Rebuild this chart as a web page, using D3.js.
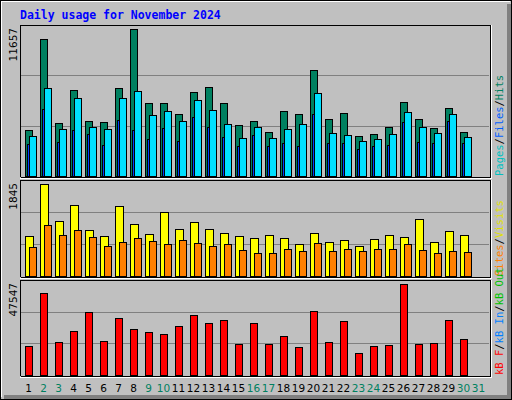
<!DOCTYPE html>
<html><head><meta charset="utf-8">
<script src="https://cdn.jsdelivr.net/npm/d3@7"></script>
<style>body{margin:0;background:#fff}</style>
</head><body>
<script>
const days = d3.range(1, 32)
const weekend = [2, 3, 9, 10, 16, 17, 23, 24, 30, 31]
const hits = [3648,10864,4203,6820,4361,4282,6978,11657,5789,5789,4916,6661,7058,5789,4044,4361,3489,5154,4916,8405,4520,4996,3172,3330,3886,5868,4520,3806,5392,3489]
const files = [3172,6978,3727,6185,3886,3727,6185,6740,4837,5154,4361,6027,5234,4123,3013,3886,3013,3727,4123,6582,3410,3251,2775,2934,3330,5075,3886,3410,4916,3093]
const pages = [2537,5313,2696,3648,3330,2458,4441,3648,2934,3806,2775,4679,3886,3093,2379,3251,2379,2617,2379,4916,2617,2617,2141,2379,2458,4282,2696,2617,4361,2617]
const visits = [802,1845,1103,1424,923,802,1404,1043,842,1284,943,1083,943,862,802,762,822,762,642,862,682,722,602,742,822,782,1143,682,902,822]
const sites = [582,1023,822,923,782,602,682,762,702,642,722,662,602,642,521,461,461,541,501,662,501,541,501,541,541,642,521,461,501,481]
const kbytes = [15155,42852,17246,22994,32923,17768,29787,24039,22471,21426,25606,31355,27174,28742,16200,27174,16200,20381,14632,33446,17246,28220,11497,15155,15678,47547,16200,16723,28742,18813]

const W = 512, H = 400
const svg = d3.select("body").append("svg").attr("width", W).attr("height", H)
  .style("display", "block").attr("shape-rendering", "crispEdges")
svg.append("rect").attr("width", W).attr("height", H).attr("fill", "#c0c0c0")
svg.append("rect").attr("x", 0.5).attr("y", 0.5).attr("width", W - 1).attr("height", H - 1)
  .attr("fill", "none").attr("stroke", "#000")
svg.append("path").attr("d", "M1.5,397V1.5H510").attr("stroke", "#fff").attr("fill", "none")
svg.append("rect").attr("x", 4).attr("y", 395).attr("width", 507).attr("height", 4).attr("fill", "#808080")
svg.append("rect").attr("x", 507).attr("y", 4).attr("width", 4).attr("height", 395).attr("fill", "#808080")

svg.append("text").attr("x", 20).attr("y", 19).text("Daily usage for November 2024")
  .attr("font-family", "DejaVu Sans Mono").attr("font-weight", "bold").attr("font-size", 11.5).attr("fill", "#0000ff")

const x = d3.scaleBand().domain(days).range([20, 485]).paddingInner(0)

function panel(top, bottom, max, maxLabel, series, legend) {
  const y = d3.scaleLinear().domain([0, max]).range([bottom, top + 4])
  const g = svg.append("g")
  g.append("rect").attr("x", 20).attr("y", top).attr("width", 470).attr("height", bottom - top + 1)
    .attr("fill", "#c0c0c0")
  const h = bottom - top
  ;[1 / 3, 2 / 3].forEach(f => g.append("line").attr("x1", 21).attr("x2", 489)
    .attr("y1", Math.round(bottom - h * f) + 0.5).attr("y2", Math.round(bottom - h * f) + 0.5)
    .attr("stroke", "#808080"))
  series.forEach(s => {
    g.selectAll(null).data(s.values).join("rect")
      .attr("x", (d, i) => Math.round(x(i + 1) + 5 + s.dx) + 0.5)
      .attr("y", d => Math.round(y(d)) + 0.5)
      .attr("width", s.w).attr("height", d => Math.round(bottom - y(d)))
      .attr("fill", s.color).attr("stroke", "#000")
  })
  g.append("path").attr("d", `M20.5,${bottom + 1}V${top + 0.5}H490`).attr("stroke", "#000").attr("fill", "none")
  g.append("path").attr("d", `M20.5,${bottom + 1.5}H490.5V${top}`).attr("stroke", "#000").attr("fill", "none")
  g.append("path").attr("d", `M20,${bottom + 2.5}H491.5V${top}`).attr("stroke", "#fff").attr("fill", "none")
  g.append("text").attr("transform", `translate(17,${top + 3}) rotate(-90)`).attr("text-anchor", "end")
    .attr("font-family", "DejaVu Sans").attr("font-size", 10.5).text(maxLabel)
  const t = g.append("text").attr("transform", `translate(503,${bottom}) rotate(-90)`)
    .attr("font-family", "DejaVu Sans Mono").attr("font-size", 10.5)
  legend.forEach(([txt, c]) => t.append("tspan").text(txt).attr("fill", c))
}

panel(25, 176, 11657, "11657", [
  { values: hits, color: "#008060", dx: 0, w: 7 },
  { values: pages, color: "#0040ff", dx: 2, w: 7 },
  { values: files, color: "#00e0ff", dx: 4, w: 7 }
], [["Pages", "#00c0c0"], ["/", "#000"], ["Files", "#0060ff"], ["/", "#000"], ["Hits", "#008060"]])

panel(180, 276, 1845, "1845", [
  { values: visits, color: "#ffff00", dx: 0, w: 8 },
  { values: sites, color: "#ff8000", dx: 4, w: 7 }
], [["Sites", "#ff8000"], ["/", "#000"], ["Visits", "#e0e000"]])

panel(280, 375, 47547, "47547", [
  { values: kbytes, color: "#ff0000", dx: 0, w: 7 }
], [["kB F", "#ff0000"], ["/", "#000"], ["kB In", "#0080ff"], ["/", "#000"], ["kB Out", "#00c000"]])

svg.append("g").selectAll("text").data(days).join("text")
  .attr("x", d => x(d) + 8.5).attr("y", 392).attr("text-anchor", "middle")
  .attr("font-family", "DejaVu Sans").attr("font-size", 10.5)
  .attr("fill", d => weekend.includes(d) ? "#008060" : "#000").text(d => d)
</script>
</body></html>
